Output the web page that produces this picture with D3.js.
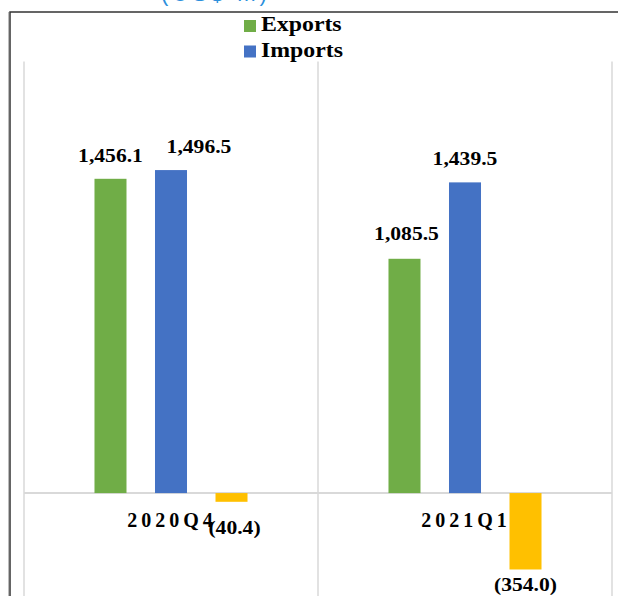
<!DOCTYPE html>
<html>
<head>
<meta charset="utf-8">
<script src="https://cdn.jsdelivr.net/npm/d3@7"></script>
<style>
  html, body { margin: 0; padding: 0; background: #fff; }
  svg { display: block; }
</style>
</head>
<body>
<svg id="chart" width="618" height="596"></svg>
<script>
// ---- data ----
const categories = ["2020Q4", "2021Q1"];
const seriesNames = ["Exports", "Imports", "Balance"];
const exportsVals = [1456.1, 1085.5];
const importsVals = [1496.5, 1439.5];
const balanceVals = [-40.4, -354.0];
const legendNames = ["Exports", "Imports"];
const unitText = "(US$ m)";
const yDomain = [-500, 2000];

const colors = { Exports: "#70AD47", Imports: "#4472C4", Balance: "#FFC000" };
const seriesVals = { Exports: exportsVals, Imports: importsVals, Balance: balanceVals };

const fmt = v => {
  const s = d3.format(",.1f")(Math.abs(v));
  return v < 0 ? "(" + s + ")" : s;
};

const svg = d3.select("#chart");
const W = 618, H = 596;
const serif = "'Liberation Serif', 'Times New Roman', serif";

// scales
const x = d3.scaleBand().domain(categories).range([24, 612]).padding(0);
const xs = d3.scaleBand().domain(seriesNames).range([0, x.bandwidth()])
  .paddingInner(0.471).paddingOuter(1.165);
const y = d3.scaleLinear().domain(yDomain).range([601, 61.4]);

// unit text (cut off at the top, as in the original)
svg.append("text")
  .attr("x", 216).attr("y", 1)
  .attr("text-anchor", "middle")
  .attr("font-family", "'Liberation Sans', Arial, sans-serif")
  .attr("font-size", 22).attr("letter-spacing", 4)
  .attr("fill", "#2b8fdc")
  .text(unitText);

// outer frame
svg.append("rect")
  .attr("x", 10).attr("y", 12).attr("width", 640).attr("height", 620)
  .attr("fill", "none").attr("stroke", "#333").attr("stroke-width", 1.5);
svg.append("line")
  .attr("x1", 8.5).attr("x2", 8.5).attr("y1", 12).attr("y2", H)
  .attr("stroke", "#bbb").attr("stroke-width", 1);

// vertical category separators
const sepXs = categories.map(c => x(c)).concat([x.range()[1]]);
svg.append("g").selectAll("line").data(sepXs).join("line")
  .attr("x1", d => d).attr("x2", d => d)
  .attr("y1", y(yDomain[1])).attr("y2", H)
  .attr("stroke", "#d9d9d9").attr("stroke-width", 1.5);

// zero line
svg.append("line")
  .attr("x1", x.range()[0]).attr("x2", x.range()[1])
  .attr("y1", y(0)).attr("y2", y(0))
  .attr("stroke", "#d9d9d9").attr("stroke-width", 2);

// bars
const barData = [];
categories.forEach((c, i) => {
  seriesNames.forEach(s => barData.push({ cat: c, series: s, value: seriesVals[s][i] }));
});

svg.append("g").selectAll("rect").data(barData).join("rect")
  .attr("x", d => x(d.cat) + xs(d.series))
  .attr("width", xs.bandwidth())
  .attr("y", d => y(Math.max(0, d.value)))
  .attr("height", d => Math.abs(y(d.value) - y(0)))
  .attr("fill", d => colors[d.series]);

// data labels
const SX = 1.2;
function labelPos(d) {
  const cx = x(d.cat) + xs(d.series) + xs.bandwidth() / 2;
  let ly = d.value >= 0 ? y(d.value) - 17 : y(d.value) + 22;
  let lx = cx;
  // manual nudges as in the original layout
  if (d.cat === "2020Q4" && d.series === "Imports") { lx += 28; }
  if (d.cat === "2020Q4" && d.series === "Balance") { ly += 10; lx += 3; }
  if (d.cat === "2021Q1" && d.series === "Exports") { ly -= 2; lx += 2; }
  return [lx, ly];
}
svg.append("g").selectAll("text").data(barData).join("text")
  .attr("transform", d => { const p = labelPos(d); return `translate(${p[0]},${p[1]}) scale(${SX},1)`; })
  .attr("text-anchor", "middle")
  .attr("font-family", serif).attr("font-weight", "bold")
  .attr("font-size", 18).attr("fill", "#000")
  .text(d => fmt(d.value));

// category labels
svg.append("g").selectAll("text").data(categories).join("text")
  .attr("x", c => x(c) + x.bandwidth() / 2 + 1)
  .attr("y", y(0) + 34)
  .attr("text-anchor", "middle")
  .attr("font-family", serif).attr("font-weight", "bold")
  .attr("font-size", 20).attr("letter-spacing", 4)
  .attr("fill", "#000")
  .text(c => c);

// legend
const lg = svg.append("g");
legendNames.forEach((n, i) => {
  const gy = 20 + i * 25.5;
  lg.append("rect").attr("x", 244).attr("y", gy).attr("width", 12).attr("height", 12)
    .attr("fill", colors[n]);
  lg.append("text")
    .attr("transform", `translate(261,${gy + 11}) scale(1.19,1)`)
    .attr("font-family", serif).attr("font-weight", "bold")
    .attr("font-size", 20).attr("fill", "#000")
    .text(n);
});
</script>
</body>
</html>
